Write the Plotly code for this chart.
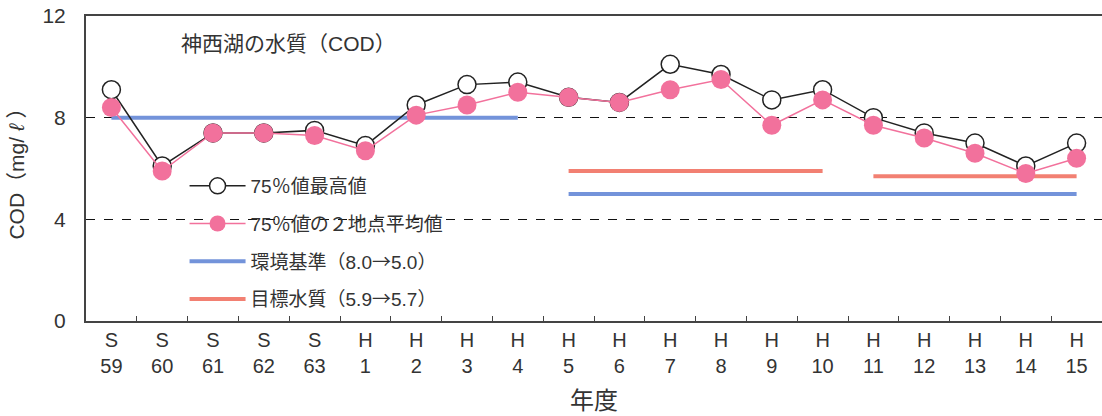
import plotly.graph_objects as go

years = ["S<br>59", "S<br>60", "S<br>61", "S<br>62", "S<br>63", "H<br>1", "H<br>2", "H<br>3", "H<br>4",
         "H<br>5", "H<br>6", "H<br>7", "H<br>8", "H<br>9", "H<br>10", "H<br>11", "H<br>12", "H<br>13",
         "H<br>14", "H<br>15"]
max75 = [9.1, 6.1, 7.4, 7.4, 7.5, 6.9, 8.5, 9.3, 9.4, 8.8, 8.6, 10.1, 9.7, 8.7, 9.1, 8.0, 7.4, 7.0, 6.1, 7.0]
avg75 = [8.4, 5.9, 7.4, 7.4, 7.3, 6.7, 8.1, 8.5, 9.0, 8.8, 8.6, 9.1, 9.5, 7.7, 8.7, 7.7, 7.2, 6.6, 5.8, 6.4]

# environmental standard: (start, end, value)
std_segments = [("S<br>59", "H<br>4", 8.0), ("H<br>5", "H<br>15", 5.0)]
# target water quality
tgt_segments = [("H<br>5", "H<br>10", 5.9), ("H<br>11", "H<br>15", 5.7)]

FONT = "Liberation Sans, Arial, Noto Sans CJK JP"
BLUE = "#7393DA"
ORANGE = "#F28072"
PINK = "#F2719C"
ARROW = "<span style='font-family:Noto Sans CJK JP'>→</span>"
PCT = "<span style='font-family:Noto Sans CJK JP'>％</span>"


def seg_xy(segs):
    xs, ys = [], []
    for a, b, v in segs:
        xs += [a, b, None]
        ys += [v, v, None]
    return xs, ys


fig = go.Figure()
sx, sy = seg_xy(std_segments)
tx, ty = seg_xy(tgt_segments)
fig.add_trace(go.Scatter(x=sx, y=sy, mode="lines", name="環境基準（8.0" + ARROW + "5.0）",
                         line=dict(color=BLUE, width=4), legendrank=3, legendgroup="c"))
fig.add_trace(go.Scatter(x=tx, y=ty, mode="lines", name="目標水質（5.9" + ARROW + "5.7）",
                         line=dict(color=ORANGE, width=4), legendrank=4, legendgroup="d"))
fig.add_trace(go.Scatter(x=years, y=max75, mode="lines+markers", name="75" + PCT + "値最高値",
                         line=dict(color="#222222", width=1.5),
                         marker=dict(symbol="circle", size=18, color="white",
                                     line=dict(color="#222222", width=1.5)),
                         legendrank=1, legendgroup="a"))
fig.add_trace(go.Scatter(x=years, y=avg75, mode="lines+markers", name="75" + PCT + "値の２地点平均値",
                         line=dict(color=PINK, width=1.5),
                         marker=dict(symbol="circle", size=19, color=PINK),
                         legendrank=2, legendgroup="b"))

fig.add_annotation(text="神西湖の水質（COD）", xref="paper", yref="paper", x=0.092, y=0.911,
                   xanchor="left", yanchor="middle", showarrow=False,
                   font=dict(size=21, color="#333333", family=FONT))

fig.update_layout(
    width=1102, height=416,
    margin=dict(l=86, r=0, t=16, b=95),
    paper_bgcolor="white", plot_bgcolor="white",
    font=dict(family=FONT, color="#333333"),
    showlegend=True,
    legend=dict(x=0.097, y=0.505, xanchor="left", yanchor="top",
                bgcolor="rgba(0,0,0,0)", font=dict(size=19, color="#333333", family=FONT),
                tracegroupgap=10, itemwidth=56),
    xaxis=dict(type="category", categoryorder="array", categoryarray=years,
               range=[-0.5, 19.5], showline=True, linecolor="#444444", linewidth=2,
               mirror=True, ticks="inside", tickson="boundaries", ticklen=5,
               tickcolor="#444444", showgrid=False,
               tickfont=dict(size=20, color="#333333", family=FONT),
               title=dict(text="年度", font=dict(size=24, color="#333333", family=FONT), standoff=16)),
    yaxis=dict(range=[0, 12], tickvals=[0, 4, 8, 12], showline=True, linecolor="#444444",
               linewidth=2, showgrid=True, gridcolor="#111111", gridwidth=1, griddash="dash",
               zeroline=False, ticks="", ticklabelstandoff=14,
               tickfont=dict(size=21, color="#333333", family=FONT),
               title=dict(text="COD（mg/ <i>ℓ</i> ）", font=dict(size=21, color="#333333", family=FONT),
                          standoff=12)),
)

fig.write_html("out.html", config={"displayModeBar": False},
               post_script="document.body.style.margin='0';")
